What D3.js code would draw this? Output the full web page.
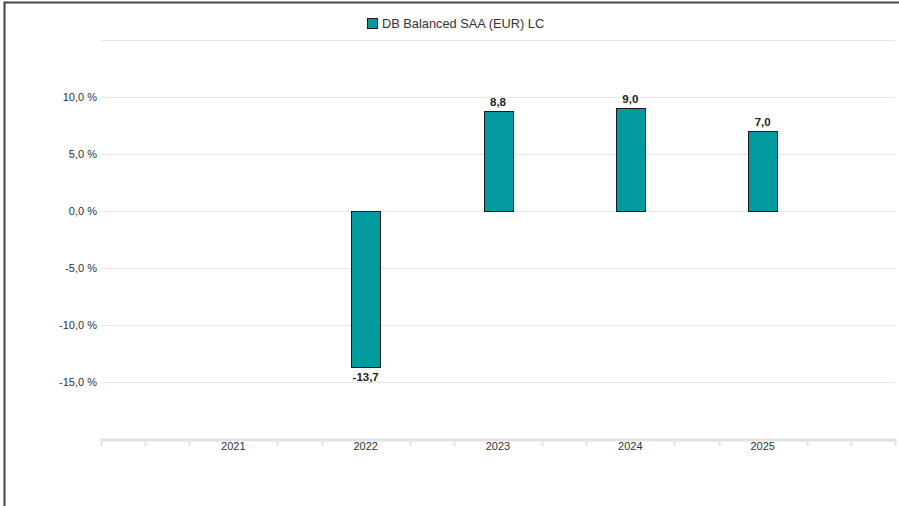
<!DOCTYPE html>
<html lang="en">
<head>
    <meta charset="UTF-8">
    <script src="https://cdnjs.cloudflare.com/ajax/libs/d3/7.6.1/d3.min.js"></script>
    <title>DB Balanced SAA</title>
    <style>
        body { margin: 0; background: #fff; }
        svg { display: block; font-family: "Liberation Sans", Arial, sans-serif; }
    </style>
</head>
<body>
    <div id="container"></div>
    <script>
        // ---- data ----
        const seriesName = "DB Balanced SAA (EUR) LC"
        const years = [2021, 2022, 2023, 2024, 2025]
        const returns = [null, -13.7, 8.8, 9.0, 7.0]
        const yTicks = [-15, -10, -5, 0, 5, 10]
        const yGrid = [-20, -15, -10, -5, 0, 5, 10, 15]

        const W = 899, H = 506
        const plot = { left: 101, right: 895, top: 40, bottom: 439 }
        const barColor = "#019b9f"
        const fmt = v => d3.format(".1f")(v).replace(".", ",").replace("\u2212", "-")

        const svg = d3.select("#container").append("svg")
            .attr("width", W)
            .attr("height", H)

        // frame (top + left edges only)
        svg.append("path")
            .attr("d", `M4.5,${H} L4.5,2.5 L${W},2.5`)
            .attr("fill", "none")
            .attr("stroke", "#444")
            .attr("stroke-width", 2)

        // ---- scales ----
        const x = d3.scaleLinear().domain([2020, 2026]).range([plot.left, plot.right])
        const y = d3.scaleLinear().domain([-20, 15]).range([plot.bottom, plot.top])

        // gridlines
        svg.append("g").selectAll("line")
            .data(yGrid.filter(d => d > -20))
            .join("line")
            .attr("x1", plot.left).attr("x2", plot.right)
            .attr("y1", d => Math.round(y(d)) + 0.5)
            .attr("y2", d => Math.round(y(d)) + 0.5)
            .attr("stroke", "#e6e6e6")

        // y labels
        svg.append("g").selectAll("text")
            .data(yTicks)
            .join("text")
            .attr("x", plot.left - 4)
            .attr("y", d => y(d) + 4)
            .attr("text-anchor", "end")
            .attr("font-size", 11)
            .attr("fill", "#333")
            .text(d => fmt(d) + " %")

        // x axis line + ticks every third of a year
        const xAxis = svg.append("g")
        xAxis.append("line")
            .attr("x1", plot.left).attr("x2", plot.right)
            .attr("y1", plot.bottom + 1).attr("y2", plot.bottom + 1)
            .attr("stroke", "#e3e3e3")
            .attr("stroke-width", 3)
        const minor = d3.range(0, 19).map(i => 2020 + i / 3)
            .filter(t => Math.abs(t - Math.round(t)) > 0.01 || t === 2020 || t > 2025.99)
        xAxis.selectAll("line.tick")
            .data(minor)
            .join("line")
            .attr("class", "tick")
            .attr("x1", d => Math.round(x(d)) + 0.5)
            .attr("x2", d => Math.round(x(d)) + 0.5)
            .attr("y1", plot.bottom)
            .attr("y2", plot.bottom + 7)
            .attr("stroke", "#e3e3e3")
            .attr("stroke-width", 2)
        xAxis.selectAll("text")
            .data(years)
            .join("text")
            .attr("x", d => x(d))
            .attr("y", plot.bottom + 11)
            .attr("text-anchor", "middle")
            .attr("font-size", 11)
            .attr("fill", "#333")
            .text(d => d)

        // ---- bars ----
        const barW = 29
        const data = years.map((yr, i) => ({ yr, v: returns[i] })).filter(d => d.v !== null)
        svg.append("g").selectAll("rect")
            .data(data)
            .join("rect")
            .attr("x", d => Math.round(x(d.yr) - barW / 2) + 0.5)
            .attr("y", d => Math.round(y(Math.max(0, d.v))) + 0.5)
            .attr("width", barW)
            .attr("height", d => Math.round(Math.abs(y(d.v) - y(0))))
            .attr("fill", barColor)
            .attr("stroke", "#1b1b1b")
            .attr("stroke-width", 1)

        svg.append("g").selectAll("text")
            .data(data)
            .join("text")
            .attr("x", d => x(d.yr))
            .attr("y", d => d.v >= 0 ? y(d.v) - 5 : y(d.v) + 14)
            .attr("text-anchor", "middle")
            .attr("font-size", 11.5)
            .attr("font-weight", "bold")
            .attr("fill", "#222")
            .text(d => fmt(d.v))

        // ---- legend ----
        const legend = svg.append("g").attr("transform", "translate(367,18)")
        legend.append("rect")
            .attr("x", 0.5).attr("y", 0.5)
            .attr("width", 10).attr("height", 10)
            .attr("fill", barColor)
            .attr("stroke", "#1b1b1b")
        legend.append("text")
            .attr("x", 15)
            .attr("y", 10)
            .attr("font-size", 12.8)
            .attr("fill", "#333")
            .text(seriesName)
    </script>
</body>
</html>
